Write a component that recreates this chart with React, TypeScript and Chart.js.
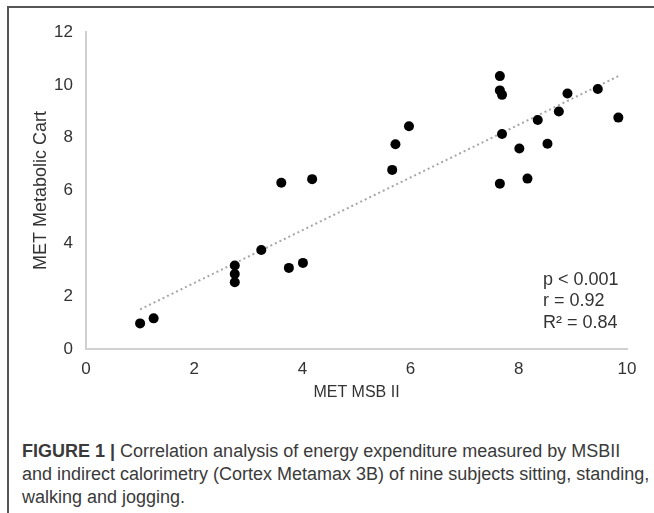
import React, { useEffect, useRef } from "react";
import { Chart, registerables } from "chart.js";

Chart.register(...registerables);

// MET values measured by MSB II (x) and by the metabolic cart (y)
const metMSB: number[] = [1.0, 1.25, 2.75, 2.75, 2.75, 3.24, 3.61, 3.75, 4.01, 4.18, 5.66, 5.72, 5.97, 7.65, 7.65, 7.69, 7.69, 7.65, 8.01, 8.16, 8.35, 8.53, 8.74, 8.9, 9.46, 9.84];
const metCart: number[] = [0.97, 1.16, 3.16, 2.84, 2.53, 3.75, 6.29, 3.07, 3.26, 6.43, 6.78, 7.75, 8.43, 10.33, 9.79, 9.62, 8.14, 6.26, 7.59, 6.45, 8.67, 7.77, 8.99, 9.67, 9.84, 8.76];

// linear trend line end points
const trendX: number[] = [1.0, 9.84];
const trendY: number[] = [1.5, 10.33];

const xTicks: number[] = [0, 2, 4, 6, 8, 10];
const yTicks: number[] = [0, 2, 4, 6, 8, 10, 12];

const statLines: string[] = ["p < 0.001", "r = 0.92", "R\u00B2 = 0.84"];
const xTitle = "MET MSB II";
const yTitle = "MET Metabolic Cart";
const captionBold = "FIGURE 1 |";
const captionLines: string[] = [
  " Correlation analysis of energy expenditure measured by MSBII",
  "and indirect calorimetry (Cortex Metamax 3B) of nine subjects sitting, standing,",
  "walking and jogging.",
];

const FONT = "'Liberation Sans', Arial, sans-serif";
const TEXT = "#333333";

const statsPlugin = {
  id: "stats",
  afterDraw(chart: any) {
    const { ctx, chartArea } = chart;
    ctx.save();
    ctx.font = `18px ${FONT}`;
    ctx.fillStyle = TEXT;
    ctx.textAlign = "left";
    ctx.textBaseline = "middle";
    const x0 = chartArea.right - 84;
    statLines.forEach((s, i) => {
      ctx.fillText(s, x0, chartArea.top + 248 + i * 21.5);
    });
    ctx.restore();
  },
};

export default function App() {
  const ref = useRef<HTMLCanvasElement | null>(null);

  useEffect(() => {
    if (!ref.current) return;
    const points = metMSB.map((x, i) => ({ x, y: metCart[i] }));
    const trend = trendX.map((x, i) => ({ x, y: trendY[i] }));
    const chart = new Chart(ref.current, {
      type: "scatter",
      data: {
        datasets: [
          {
            type: "line",
            data: trend,
            borderColor: "#a6a6a6",
            borderWidth: 2,
            borderDash: [2, 3],
            pointRadius: 0,
            fill: false,
            order: 2,
          } as any,
          {
            data: points,
            backgroundColor: "#000000",
            borderColor: "#000000",
            borderWidth: 0,
            pointRadius: 5,
            order: 1,
          },
        ],
      },
      options: {
        responsive: false,
        animation: false,
        devicePixelRatio: 1,
        layout: { padding: { left: 0, right: 27, top: 32, bottom: 0 } },
        plugins: { legend: { display: false }, tooltip: { enabled: false } },
        scales: {
          x: {
            type: "linear",
            min: 0,
            max: 10,
            afterBuildTicks: (s: any) => {
              s.ticks = xTicks.map((v) => ({ value: v }));
            },
            afterFit: (s: any) => {
              s.height = 71;
            },
            grid: { display: false, drawTicks: false },
            border: { display: true, color: "#d0d0d0", width: 2 },
            ticks: { color: TEXT, font: { family: FONT, size: 17 }, padding: 10 },
            title: {
              display: true,
              text: xTitle,
              color: TEXT,
              font: { family: FONT, size: 16 },
              padding: { top: 0, bottom: 18 },
            },
          },
          y: {
            type: "linear",
            min: 0,
            max: 12,
            afterBuildTicks: (s: any) => {
              s.ticks = yTicks.map((v) => ({ value: v }));
            },
            afterFit: (s: any) => {
              s.width = 86;
            },
            grid: { display: false, drawTicks: false },
            border: { display: true, color: "#d0d0d0", width: 2 },
            ticks: { color: TEXT, font: { family: FONT, size: 17 }, padding: 13 },
            title: {
              display: true,
              text: yTitle,
              color: TEXT,
              font: { family: FONT, size: 18 },
              padding: { top: 30, bottom: 0 },
            },
          },
        },
      },
      plugins: [statsPlugin],
    });
    return () => chart.destroy();
  }, []);

  return (
    <div style={{ position: "absolute", left: 0, top: 0, width: 654, height: 513, background: "#fff", overflow: "hidden" }}>
      <div
        style={{
          position: "absolute",
          left: 7,
          top: 6,
          right: 0,
          bottom: 0,
          borderLeft: "2px solid #555",
          borderTop: "2px solid #555",
        }}
      />
      <canvas ref={ref} width={654} height={420} style={{ position: "absolute", left: 0, top: 0, width: 654, height: 420 }} />
      <div
        style={{
          position: "absolute",
          left: 22,
          top: 440,
          width: 632,
          fontFamily: FONT,
          fontSize: 18,
          lineHeight: "23px",
          color: "#3a3a3a",
          whiteSpace: "nowrap",
        }}
      >
        <span style={{ fontWeight: "bold" }}>{captionBold}</span>
        {captionLines[0]}
        <br />
        {captionLines[1]}
        <br />
        {captionLines[2]}
      </div>
    </div>
  );
}
